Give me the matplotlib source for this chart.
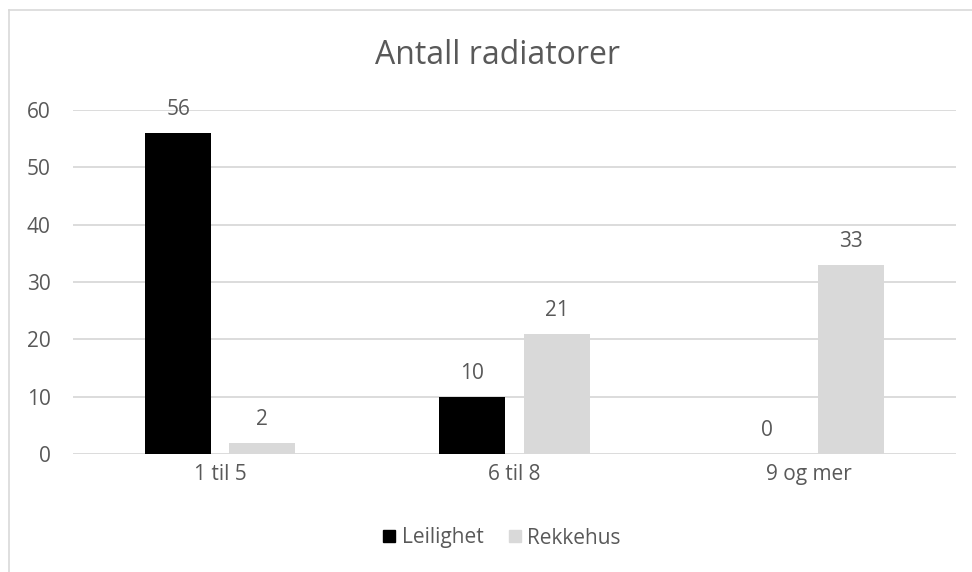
import numpy as np
import matplotlib.pyplot as plt
from matplotlib.lines import Line2D

categories = ["1 til 5", "6 til 8", "9 og mer"]
leilighet = [56, 10, 0]
rekkehus = [2, 21, 33]
y_ticks = [0, 10, 20, 30, 40, 50, 60]

plt.rcParams['font.family'] = ['Open Sans', 'DejaVu Sans']
text_color = "#595959"
grid_color = "#d9d9d9"

fig = plt.figure(figsize=(9.72, 5.72), dpi=100)
ax = fig.add_axes([73 / 972, 1 - 454 / 572, (956 - 73) / 972, (454 - 110) / 572])

x = np.arange(len(categories))
w = 0.224
off = 0.143
b1 = ax.bar(x - off, leilighet, w, color="#000000", label="Leilighet", zorder=3)
b2 = ax.bar(x + off, rekkehus, w, color="#d9d9d9", label="Rekkehus", zorder=3)

for bars in (b1, b2):
    for rect in bars:
        h = rect.get_height()
        ax.annotate(f"{h:g}", (rect.get_x() + rect.get_width() / 2, h),
                    xytext=(0, 9), textcoords="offset points",
                    ha="center", va="bottom", fontsize=15, color=text_color)

ax.set_xlim(-0.5, 2.5)
ax.set_ylim(0, 60)
ax.set_yticks(y_ticks)
ax.set_xticks(x)
ax.set_xticklabels(categories)
ax.tick_params(axis="both", length=0, labelsize=15, labelcolor=text_color)
ax.tick_params(axis="y", pad=16)
ax.tick_params(axis="x", pad=7)
ax.grid(axis="y", color=grid_color, linewidth=1.3, zorder=0)
for s in ax.spines.values():
    s.set_visible(False)

fig.text(497 / 972, 1 - 56 / 572, "Antall radiatorer", ha="center", va="center",
         fontsize=23, color=text_color)

handles = [Line2D([], [], marker="s", linestyle="", color="#000000", markersize=9),
           Line2D([], [], marker="s", linestyle="", color="#d9d9d9", markersize=9)]
fig.legend(handles, ["Leilighet", "Rekkehus"], loc="center", bbox_to_anchor=(500 / 972, 1 - 538 / 572),
           ncol=2, frameon=False, fontsize=15, labelcolor=text_color,
           handletextpad=0.1, columnspacing=1.0, handlelength=1.0)

# chart border (left and top visible only)
fig.add_artist(Line2D([8.5 / 972, 8.5 / 972], [0, 1 - 10 / 572], color=grid_color, linewidth=1.2))
fig.add_artist(Line2D([8.5 / 972, 1], [1 - 10 / 572, 1 - 10 / 572], color=grid_color, linewidth=1.2))

fig.savefig("out.png", dpi=100)
